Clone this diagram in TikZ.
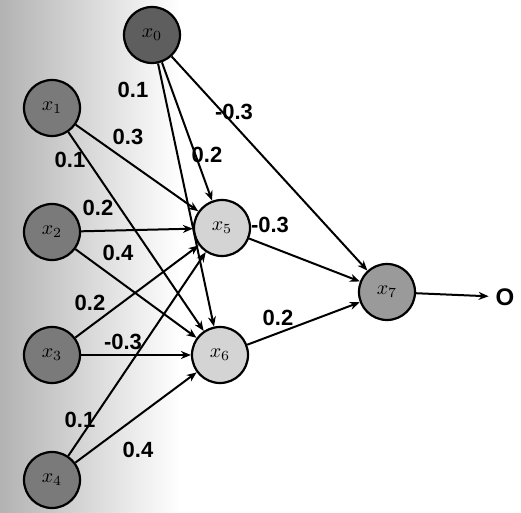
\documentclass[tikz,border=0pt]{standalone}
\usepackage{fontspec}
\setmainfont{Liberation Sans}
\usetikzlibrary{arrows.meta,positioning}
\definecolor{nnBias}{HTML}{5E5E5E}
\definecolor{nnIn}{HTML}{7A7A7A}
\definecolor{nnHid}{HTML}{D4D4D4}
\definecolor{nnOut}{HTML}{9A9A9A}

\begin{document}
\begin{tikzpicture}[x=0.5pt,y=-0.5pt,
  neuron/.style={circle, draw=black, line width=1.1pt, minimum size=28pt, inner sep=0pt},
  wire/.style={-{Stealth[length=5pt,width=4pt]}, line width=1pt},
  weight/.style={font=\fontsize{11}{13}\selectfont\bfseries, inner sep=1pt}]
  \useasboundingbox (0,0) rectangle (521,513);
  % scanned page tone
  \fill[white] (0,0) rectangle (521,513);
  \shade[left color=gray!60, right color=white] (0,0) rectangle (180,513);

  % neurons
  \node[neuron, fill=nnBias] (x0) at (152,35) {$x_0$};
  \foreach \i/\y in {1/108, 2/232, 3/355, 4/480}
    \node[neuron, fill=nnIn] (x\i) at (52,\y) {$x_\i$};
  \node[neuron, fill=nnHid] (x5) at (222,228) {$x_5$};
  \node[neuron, fill=nnHid] (x6) at (220,355) {$x_6$};
  \node[neuron, fill=nnOut] (x7) at (387,292) {$x_7$};
  \node[font=\large\bfseries] (out) at (505,297) {O};

  % connections
  \foreach \src in {0,1,2,3,4}
    \foreach \dst in {5,6}
      \draw[wire] (x\src) -- (x\dst);
  \draw[wire] (x0) -- (x7);
  \draw[wire] (x5) -- (x7);
  \draw[wire] (x6) -- (x7);
  \draw[wire] (x7) -- (out);

  % weights
  \foreach \nm/\px/\py/\w in {
    a/133/90/{0.1}, b/207/155/{0.2}, c/234/112/{-0.3},
    d/128/137/{0.3}, e/70/160/{0.1},
    f/98/208/{0.2}, g/118/253/{0.4},
    h/90/303/{0.2}, k/123/342/{-0.3},
    m/80/420/{0.1}, n/138/450/{0.4},
    p/270/225/{-0.3}, q/278/318/{0.2}}
    \node[weight] (w\nm) at (\px,\py) {\w};
\end{tikzpicture}
\end{document}
